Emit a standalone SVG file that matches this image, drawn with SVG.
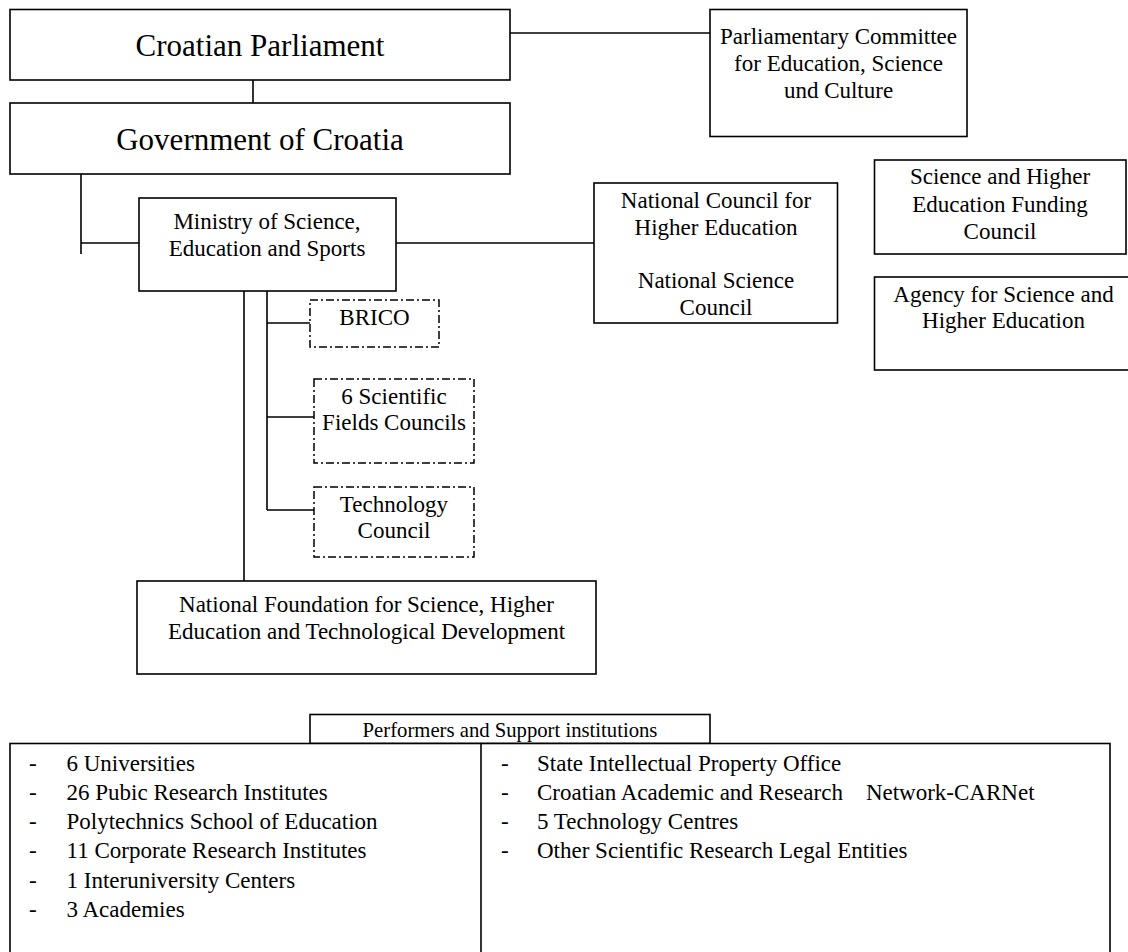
<svg xmlns="http://www.w3.org/2000/svg" width="1128" height="952" viewBox="0 0 1128 952">
<style>
  .box { fill: #fff; stroke: #000; stroke-width: 1.6; }
  .dbox { fill: #fff; stroke: #000; stroke-width: 1.5; stroke-dasharray: 8 3 2 3; }
  .ln { fill: none; stroke: #000; stroke-width: 1.6; }
  text { font-family: "Liberation Serif", "Times New Roman", serif; fill: #000; }
  .t { font-size: 23px; text-anchor: middle; }
  .big { font-size: 31px; text-anchor: middle; }
  .lbl { font-size: 20.7px; text-anchor: middle; }
  .li { font-size: 23px; }
</style>
<rect width="1128" height="952" fill="#fff"/>
<g id="connectors">
  <path class="ln" d="M510,33 H710"/>
  <path class="ln" d="M253,80 V103"/>
  <path class="ln" d="M81,174 V254 M81,243 H139"/>
  <path class="ln" d="M396,243 H594"/>
  <path class="ln" d="M244,291 V581"/>
  <path class="ln" d="M267,291 V510 M267,323 H310 M267,417 H314 M267,510 H314"/>
</g>
<g id="parliament">
  <rect class="box" x="10" y="9.5" width="500" height="70.5"/>
  <text class="big" x="260" y="56">Croatian Parliament</text>
</g>
<g id="government">
  <rect class="box" x="10" y="103" width="500" height="71"/>
  <text class="big" x="260" y="150">Government of Croatia</text>
</g>
<g id="committee">
  <rect class="box" x="710" y="9.5" width="257" height="127"/>
  <text class="t" x="838.5" y="44">Parliamentary Committee</text>
  <text class="t" x="838.5" y="71">for Education, Science</text>
  <text class="t" x="838.5" y="98">und Culture</text>
</g>
<g id="ministry">
  <rect class="box" x="139" y="198" width="257" height="93"/>
  <text class="t" x="267" y="229">Ministry of Science,</text>
  <text class="t" x="267" y="256">Education and Sports</text>
</g>
<g id="national-council">
  <rect class="box" x="594" y="183" width="243.5" height="140"/>
  <text class="t" x="716" y="208">National Council for</text>
  <text class="t" x="716" y="235">Higher Education</text>
  <text class="t" x="716" y="288">National Science</text>
  <text class="t" x="716" y="315">Council</text>
</g>
<g id="funding-council">
  <rect class="box" x="874.5" y="160" width="251.5" height="94"/>
  <text class="t" x="1000" y="184">Science and Higher</text>
  <text class="t" x="1000" y="211.5">Education Funding</text>
  <text class="t" x="1000" y="238.5">Council</text>
</g>
<g id="agency">
  <rect class="box" x="874.5" y="277" width="258" height="93"/>
  <text class="t" x="1003.5" y="301.5">Agency for Science and</text>
  <text class="t" x="1003.5" y="328">Higher Education</text>
</g>
<g id="brico">
  <rect class="dbox" x="310" y="300" width="129" height="47"/>
  <text class="t" x="374.5" y="325">BRICO</text>
</g>
<g id="scientific-fields">
  <rect class="dbox" x="314" y="379" width="160" height="84"/>
  <text class="t" x="394" y="404">6 Scientific</text>
  <text class="t" x="394" y="430">Fields Councils</text>
</g>
<g id="technology-council">
  <rect class="dbox" x="314" y="487" width="160" height="70"/>
  <text class="t" x="394" y="512">Technology</text>
  <text class="t" x="394" y="538">Council</text>
</g>
<g id="foundation">
  <rect class="box" x="137" y="581" width="459" height="93"/>
  <text class="t" x="366.5" y="612">National Foundation for Science, Higher</text>
  <text class="t" x="366.5" y="638.5">Education and Technological Development</text>
</g>
<g id="performers-label">
  <rect class="box" x="310" y="714.5" width="400" height="29"/>
  <text class="lbl" x="510" y="736.5">Performers and Support institutions</text>
</g>
<g id="performers-list">
  <rect class="box" x="10" y="743.5" width="1100" height="220"/>
  <path class="ln" d="M481,743.5 V960"/>
  <g class="li">
    <text x="29" y="770.5">-</text><text x="66.5" y="770.5">6 Universities</text>
    <text x="29" y="799.8">-</text><text x="66.5" y="799.8">26 Pubic Research Institutes</text>
    <text x="29" y="829.1">-</text><text x="66.5" y="829.1">Polytechnics School of Education</text>
    <text x="29" y="858.4">-</text><text x="66.5" y="858.4">11 Corporate Research Institutes</text>
    <text x="29" y="887.7">-</text><text x="66.5" y="887.7">1 Interuniversity Centers</text>
    <text x="29" y="917">-</text><text x="66.5" y="917">3 Academies</text>
    <text x="501" y="770.5">-</text><text x="537" y="770.5">State Intellectual Property Office</text>
    <text x="501" y="799.8">-</text><text x="537" y="799.8" xml:space="preserve" style="white-space:pre">Croatian Academic and Research    Network-CARNet</text>
    <text x="501" y="829.1">-</text><text x="537" y="829.1">5 Technology Centres</text>
    <text x="501" y="858.4">-</text><text x="537" y="858.4">Other Scientific Research Legal Entities</text>
  </g>
</g>
</svg>
